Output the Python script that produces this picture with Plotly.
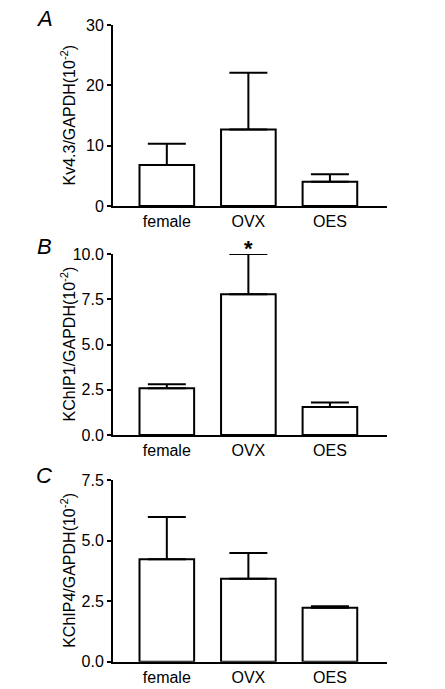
import plotly.graph_objects as go

categories = ["female", "OVX", "OES"]

# Panel A: Kv4.3/GAPDH
a_mean = [6.8, 12.7, 4.0]
a_top = [10.3, 22.1, 5.25]
# Panel B: KChIP1/GAPDH
b_mean = [2.58, 7.78, 1.55]
b_top = [2.8, 10.0, 1.8]
# Panel C: KChIP4/GAPDH
c_mean = [4.23, 3.42, 2.23]
c_top = [5.97, 4.49, 2.29]

panel_letters = ["A", "B", "C"]
y_titles = ["Kv4.3/GAPDH(10<sup>-2</sup>)", "KChIP1/GAPDH(10<sup>-2</sup>)", "KChIP4/GAPDH(10<sup>-2</sup>)"]
y_ranges = [(0, 30), (0, 10), (0, 7.5)]
y_ticks = [[0, 10, 20, 30], [0, 2.5, 5.0, 7.5, 10.0], [0, 2.5, 5.0, 7.5]]
y_tickfmt = ["d", ".1f", ".1f"]

W, H = 445, 689
FONT = "Liberation Sans, Arial, sans-serif"

# pixel geometry of each panel (top, bottom)
panels_px = [(25, 206), (254, 435), (480, 661.7)]
x_px = (113, 387)

fig = go.Figure()
series = [(a_mean, a_top), (b_mean, b_top), (c_mean, c_top)]
for i, (m, t) in enumerate(series):
    sfx = "" if i == 0 else str(i + 1)
    fig.add_trace(go.Bar(
        x=categories, y=m,
        xaxis="x" + sfx, yaxis="y" + sfx,
        width=0.67,
        marker=dict(color="white", line=dict(color="black", width=2)),
        error_y=dict(type="data", symmetric=False,
                     array=[tt - mm for tt, mm in zip(t, m)],
                     arrayminus=[0] * len(m),
                     color="black", thickness=2, width=19),
        showlegend=False, hoverinfo="skip",
    ))

layout = dict(
    width=W, height=H,
    margin=dict(l=0, r=0, t=0, b=0, autoexpand=False),
    paper_bgcolor="white", plot_bgcolor="white",
    font=dict(family=FONT, size=16, color="black"),
)
annotations = []
for i in range(3):
    sfx = "" if i == 0 else str(i + 1)
    top, bot = panels_px[i]
    dom_y = [1 - bot / H, 1 - top / H]
    layout["xaxis" + sfx] = dict(
        domain=[x_px[0] / W, x_px[1] / W],
        anchor="y" + sfx,
        type="category",
        range=[-0.66, 2.70],
        showline=True, linecolor="black", linewidth=2,
        ticks="", showgrid=False, zeroline=False,
        tickfont=dict(family=FONT, size=16, color="black"),
        fixedrange=True,
    )
    layout["yaxis" + sfx] = dict(
        domain=dom_y,
        anchor="x" + sfx,
        range=list(y_ranges[i]),
        tickvals=y_ticks[i],
        tickformat=y_tickfmt[i],
        showline=True, linecolor="black", linewidth=2,
        ticks="outside", ticklen=4, tickwidth=2, tickcolor="black",
        showgrid=False, zeroline=False,
        tickfont=dict(family=FONT, size=16, color="black"),
        fixedrange=True,
    )
    annotations.append(dict(
        text=y_titles[i], textangle=-90,
        x=68 / W, y=(dom_y[0] + dom_y[1]) / 2,
        xref="paper", yref="paper",
        xanchor="center", yanchor="middle", showarrow=False,
        font=dict(family=FONT, size=16, color="black"),
    ))
    letter_y = [18, 247, 475][i]
    annotations.append(dict(
        text="<i>" + panel_letters[i] + "</i>",
        x=44 / W, y=1 - letter_y / H,
        xref="paper", yref="paper",
        xanchor="center", yanchor="middle", showarrow=False,
        font=dict(family=FONT, size=22, color="black"),
    ))

annotations.append(dict(
    text="<b>*</b>", x="OVX", y=b_top[1], xref="x2", yref="y2",
    xanchor="center", yanchor="bottom", yshift=-9, showarrow=False,
    font=dict(family=FONT, size=22, color="black"),
))
layout["annotations"] = annotations
fig.update_layout(**layout)

fig.write_html("out.html", config={"displayModeBar": False, "staticPlot": True},
               post_script="document.body.style.margin='0';document.body.style.overflow='hidden';")
